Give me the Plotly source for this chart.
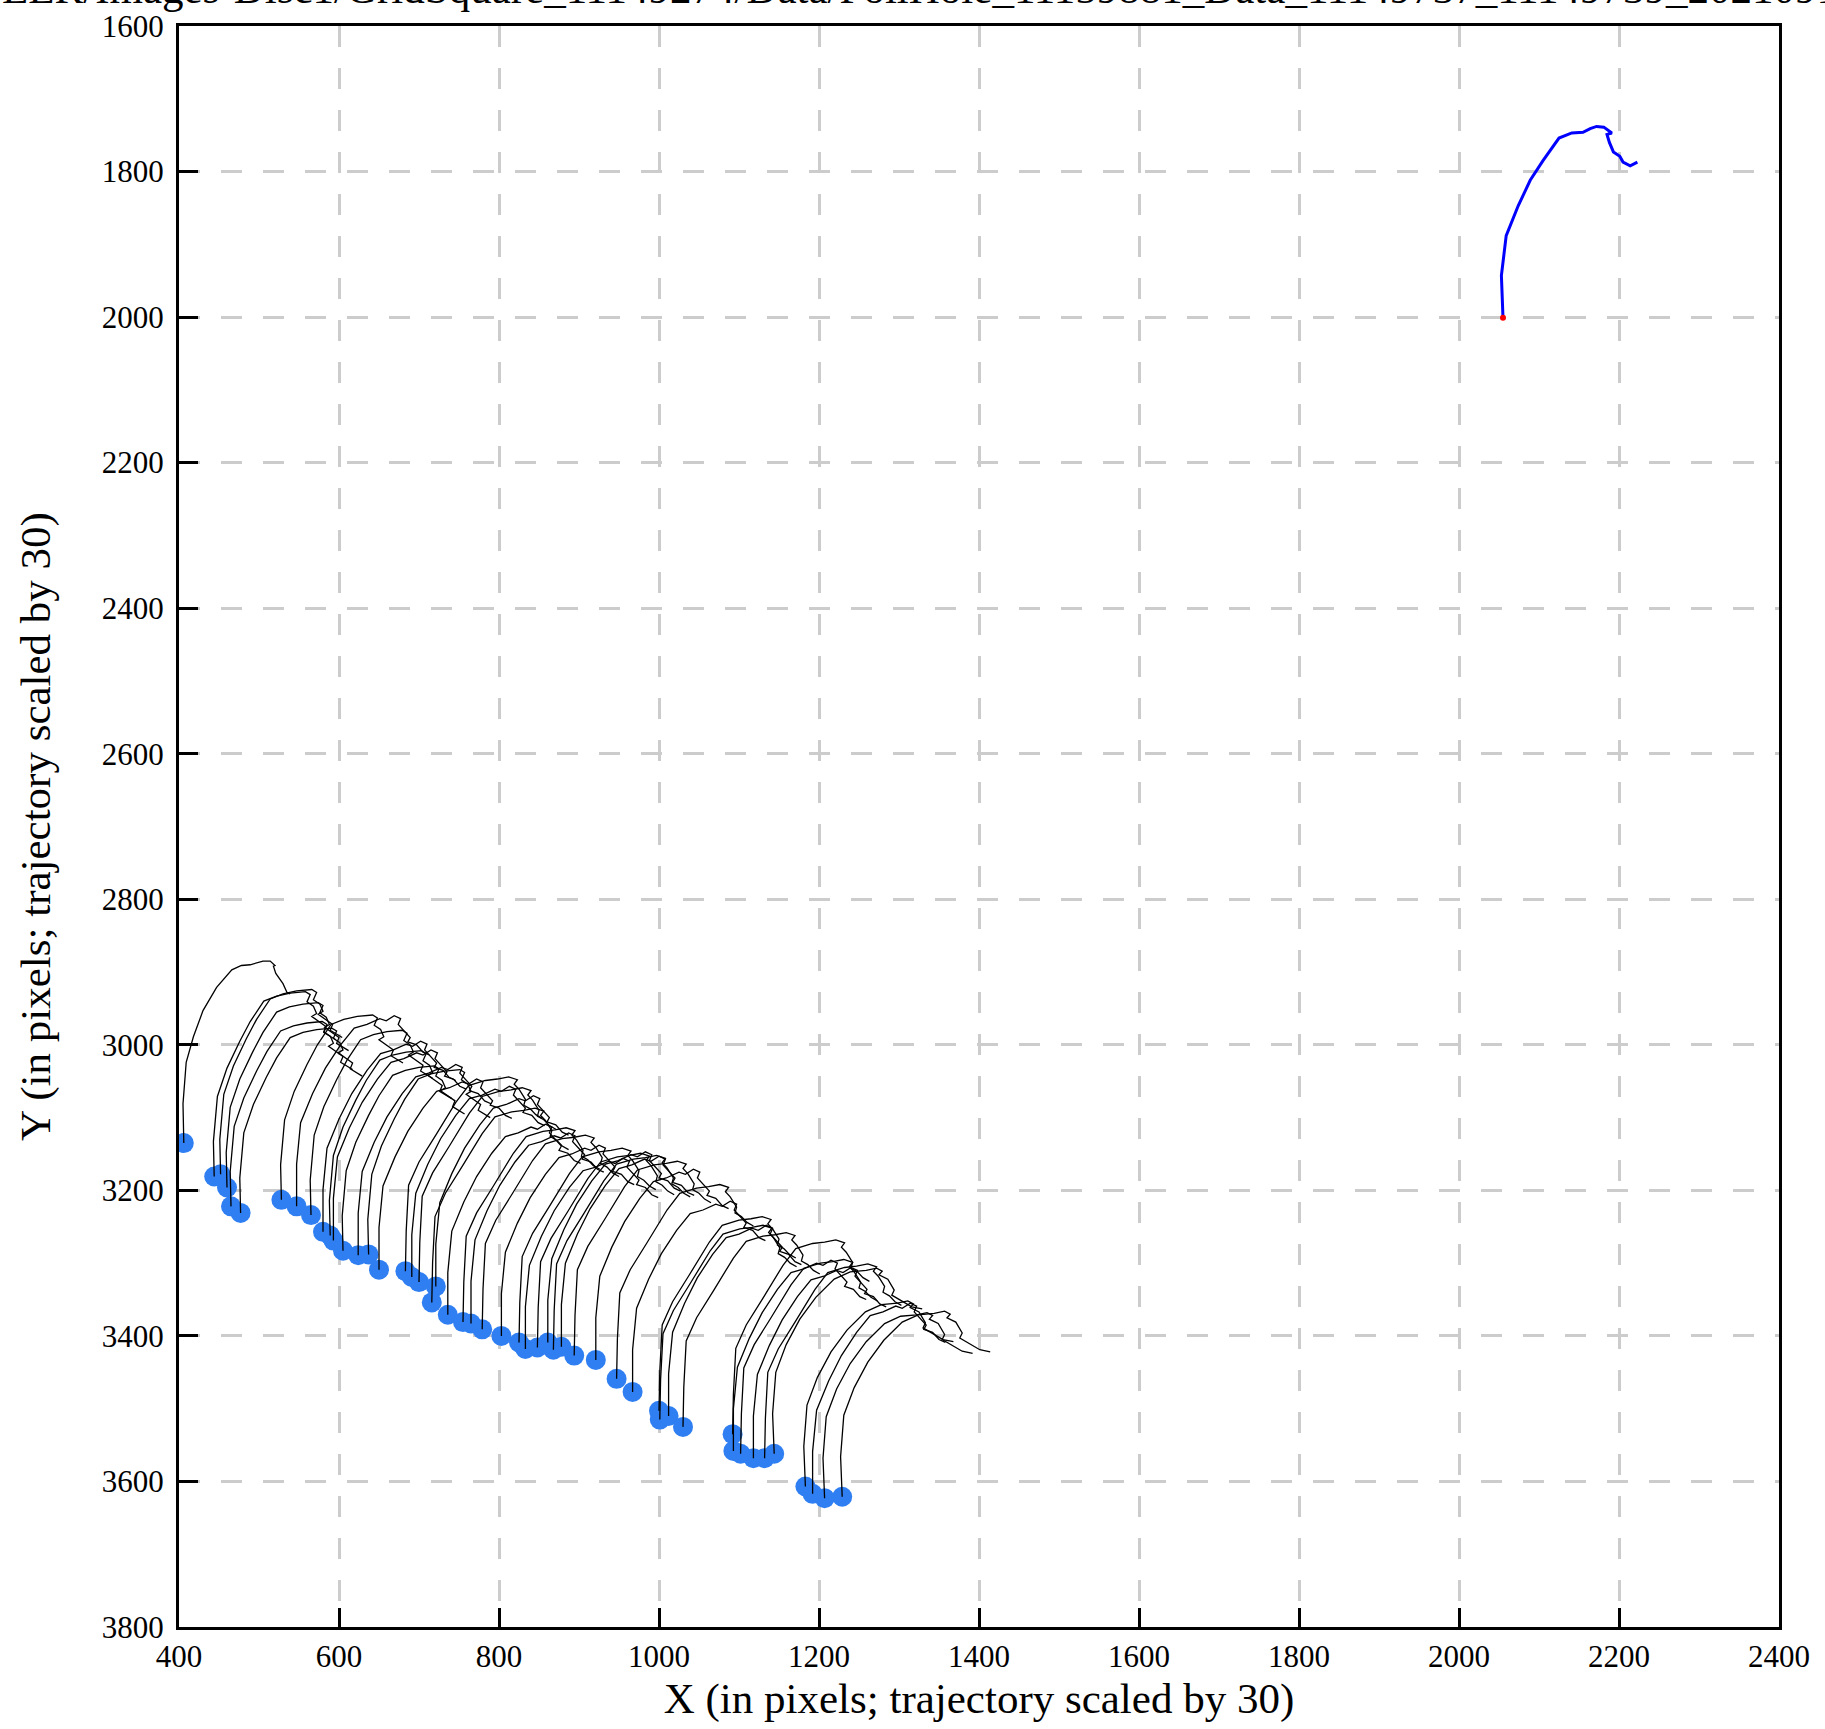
import plotly.graph_objects as go

# ---------------- data ----------------
# particle positions (blue dots)
DOT_X = [406, 444, 452, 460, 465, 477, 528, 547, 565, 580, 589, 593, 605, 624, 637, 650,
         683, 691, 700, 721, 716, 736, 755, 765, 779, 803, 825, 833, 848, 861, 868, 878,
         894, 921, 947, 967, 1000, 1001, 1012, 1030, 1092, 1093, 1102, 1118, 1132, 1144,
         1183, 1192, 1207, 1229]
DOT_Y = [3135, 3181, 3178, 3196, 3222, 3231, 3213, 3222, 3234, 3257, 3262, 3269, 3283, 3289, 3288, 3309,
         3311, 3319, 3326, 3332, 3354, 3371, 3381, 3383, 3391, 3400, 3409, 3418, 3416, 3409, 3419, 3415,
         3427, 3433, 3459, 3477, 3503, 3515, 3510, 3525, 3535, 3558, 3562, 3568, 3568, 3562,
         3607, 3617, 3623, 3621]
# which trajectory shape belongs to each particle
DOT_SHAPE = ["A", "B", "B", "B", "B", "B", "B", "E", "B", "E", "B", "E", "B", "E", "B", "E",
             "C", "E", "C", "E", "C", "E", "C", "E", "C", "E", "C", "E", "C", "E", "C", "E",
             "C", "E", "C", "E", "C", "C", "E", "C", "C", "E", "C", "E", "C", "D",
             "D", "E", "D", "D"]

# trajectory displacements (already scaled by 30), relative to the particle position
SHAPE_A_DX = [0, -1, 3, 12, 24, 41, 60, 72, 83, 99, 108, 114, 112, 115, 124, 129, 133]
SHAPE_A_DY = [0, -54, -111, -146, -182, -214, -238, -244, -245, -250, -250, -244, -243, -233, -219, -207, -205]
SHAPE_B_DX = [0, -1, 4, 16, 32, 45, 62, 78, 95, 114, 120, 116, 124, 128, 122, 132, 140, 137, 146, 152]
SHAPE_B_DY = [0, -48, -110, -149, -186, -213, -241, -248, -252, -254, -250, -240, -234, -224, -220, -212, -206, -198, -192, -188]
SHAPE_C_DX = [0, 1, 4, 17, 38, 63, 79, 100, 115, 129, 140, 136, 142, 146, 150, 148, 156, 163, 171]
SHAPE_C_DY = [0, -55, -118, -150, -187, -232, -255, -262, -264, -267, -263, -257, -250, -242, -236, -228, -223, -215, -210]
SHAPE_D_DX = [0, -2, 2, 15, 32, 52, 75, 95, 115, 128, 135, 131, 142, 150, 147, 160, 172, 185]
SHAPE_D_DY = [0, -55, -112, -150, -185, -215, -240, -250, -252, -255, -251, -246, -240, -225, -218, -210, -202, -199]
SHAPE_E_DX = [0, 0, 5, 20, 36, 55, 72, 88, 104, 112, 122, 130, 127, 135, 142, 139, 150, 158, 166]
SHAPE_E_DY = [0, -58, -115, -155, -190, -222, -245, -250, -258, -255, -262, -258, -250, -240, -232, -226, -222, -212, -208]

# highlighted (global) trajectory
BLUE_X = [2055, 2053, 2059, 2074, 2089, 2105, 2125, 2141, 2155, 2164, 2172, 2181, 2191, 2185, 2188,
          2193, 2201, 2205, 2214, 2223]
BLUE_Y = [2001, 1943, 1888, 1847, 1812, 1785, 1754, 1747, 1746, 1741, 1738, 1739, 1747, 1749, 1760,
          1773, 1779, 1787, 1792, 1787]
START_X = [2055]
START_Y = [2001]

X_TICKS = [400, 600, 800, 1000, 1200, 1400, 1600, 1800, 2000, 2200, 2400]
Y_TICKS = [1600, 1800, 2000, 2200, 2400, 2600, 2800, 3000, 3200, 3400, 3600, 3800]

TITLE = ("EER/Images-Disc1/GridSquare_11149274/Data/FoilHole_11159881_Data_11149737_11149739_"
         "20210916_104512_EER.eer")
X_TITLE = "X (in pixels; trajectory scaled by 30)"
Y_TITLE = "Y (in pixels; trajectory scaled by 30)"

# ---------------- figure ----------------
SHAPES = {
    "A": (SHAPE_A_DX, SHAPE_A_DY),
    "B": (SHAPE_B_DX, SHAPE_B_DY),
    "C": (SHAPE_C_DX, SHAPE_C_DY),
    "D": (SHAPE_D_DX, SHAPE_D_DY),
    "E": (SHAPE_E_DX, SHAPE_E_DY),
}
tx, ty = [], []
for px, py, s in zip(DOT_X, DOT_Y, DOT_SHAPE):
    dxs, dys = SHAPES[s]
    tx += [px + d for d in dxs] + [None]
    ty += [py + d for d in dys] + [None]

FONT = "Liberation Serif, Times New Roman, serif"

fig = go.Figure()
fig.add_trace(go.Scatter(x=DOT_X, y=DOT_Y, mode="markers",
                         marker=dict(size=20, color="#2f7ff2", line=dict(width=0)),
                         showlegend=False, hoverinfo="skip"))
fig.add_trace(go.Scatter(x=tx, y=ty, mode="lines", line=dict(color="black", width=1.3),
                         showlegend=False, hoverinfo="skip"))
fig.add_trace(go.Scatter(x=BLUE_X, y=BLUE_Y, mode="lines", line=dict(color="#0000ff", width=3),
                         showlegend=False, hoverinfo="skip"))
fig.add_trace(go.Scatter(x=START_X, y=START_Y, mode="markers",
                         marker=dict(size=6, color="red"), showlegend=False, hoverinfo="skip"))

axis_common = dict(
    ticks="inside", ticklen=19, tickwidth=3, tickcolor="black",
    showline=True, linewidth=3, linecolor="black", mirror=True,
    showgrid=True, gridcolor="#cccccc", gridwidth=2.5, griddash="21px,21px",
    zeroline=False, tickfont=dict(family=FONT, size=31, color="black"),
)
fig.update_xaxes(range=[400, 2400], tickmode="array", tickvals=X_TICKS,
                 ticktext=[str(v) for v in X_TICKS],
                 title=dict(text=X_TITLE, font=dict(family=FONT, size=43, color="black"), standoff=10),
                 **axis_common)
fig.update_yaxes(range=[3800, 1600], tickmode="array", tickvals=Y_TICKS,
                 ticktext=[str(v) for v in Y_TICKS], ticklabelstandoff=6,
                 title=dict(text=Y_TITLE, font=dict(family=FONT, size=43, color="black"), standoff=38),
                 **axis_common)

fig.add_annotation(text=TITLE, xref="paper", yref="paper", x=-179 / 1600, y=1 + 38 / 1601,
                   xanchor="left", yanchor="middle", showarrow=False,
                   font=dict(family=FONT, size=43, color="black"))

fig.update_layout(
    width=1825, height=1729,
    margin=dict(l=179, r=46, t=26, b=102, autoexpand=False),
    plot_bgcolor="white", paper_bgcolor="white",
    font=dict(family=FONT, color="black"),
    showlegend=False,
)

fig.write_html("out.html", config={"displayModeBar": False},
               post_script="document.body.style.margin='0px';document.body.style.overflow='hidden';")
